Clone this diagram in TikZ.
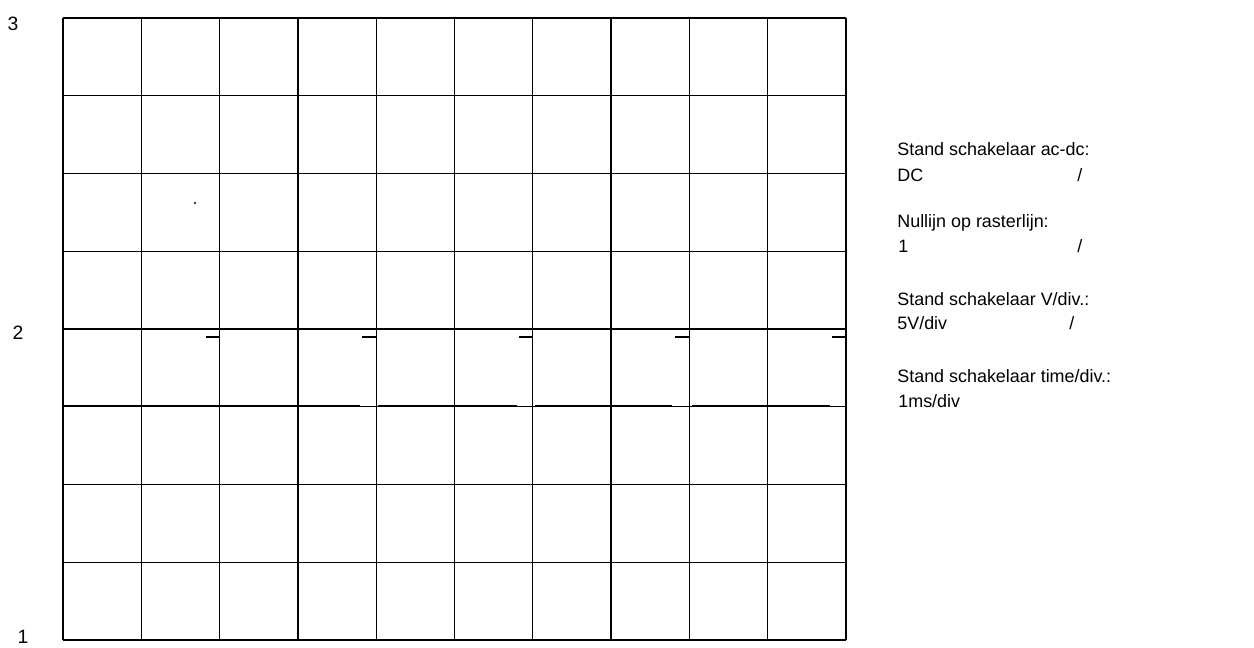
\documentclass[tikz,border=0pt]{standalone}
\usepackage{fontspec}
\setmainfont{Liberation Sans}
\begin{document}
\begin{tikzpicture}[x=0.02cm,y=-0.02cm,
  gridline/.style={line width=0.75pt},
  traceline/.style={line width=1.6pt},
  tickline/.style={line width=1pt},
  lbl/.style={anchor=base west, inner sep=0, font=\fontsize{10.2}{12}\selectfont},
  axl/.style={inner sep=0, font=\fontsize{11}{12}\selectfont}]
\useasboundingbox (0,0) rectangle (1254,648);
\fill[white] (0,0) rectangle (1254,648);
% grid
\foreach \i in {0,...,10} \draw[gridline] ({63+78.3*\i},18) -- ({63+78.3*\i},640);
\foreach \j in {0,...,8} \draw[gridline] (63,{18+77.75*\j}) -- (846,{18+77.75*\j});
% trace
\draw[traceline] (63,406) -- (360,406);
\draw[traceline] (378,406) -- (517,406);
\draw[traceline] (535,406) -- (672,406);
\draw[traceline] (692,406) -- (830,406);
\foreach \x in {219.6,376.2,532.8,689.4,846} \draw[tickline] ({\x-14},337) -- (\x,337);
\fill (195,203) circle (1.2);
% axis numbers
\node[axl] (n3) at (13,24) {3};
\node[axl] (n2) at (18,333) {2};
\node[axl] (n1) at (23,637) {1};
% settings text
\node[lbl] (t1) at (897,156) {Stand schakelaar ac-dc:};
\node[lbl] (t2) at (897,182) {DC};
\node[lbl] (s2) at (1077,182) {/};
\node[lbl] (t3) at (897,228) {Nullijn op rasterlijn:};
\node[lbl] (t4) at (898,253) {1};
\node[lbl] (s4) at (1077,253) {/};
\node[lbl] (t5) at (897,306) {Stand schakelaar V/div.:};
\node[lbl] (t6) at (897,330) {5V/div};
\node[lbl] (s6) at (1069,330) {/};
\node[lbl] (t7) at (897,382) {Stand schakelaar time/div.:};
\node[lbl] (t8) at (898,407) {1ms/div};
\end{tikzpicture}
\end{document}
